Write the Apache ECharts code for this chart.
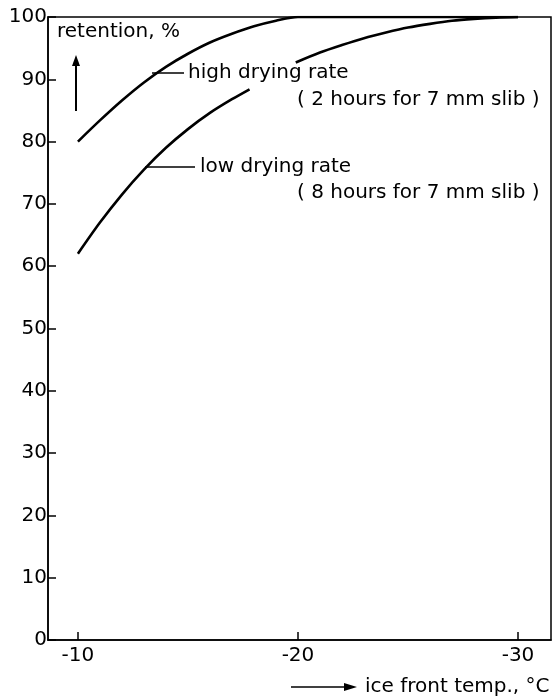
<!DOCTYPE html>
<html><head><meta charset="utf-8">
<script src="https://cdn.jsdelivr.net/npm/echarts@6/dist/echarts.min.js"></script>
<style>html,body{margin:0;padding:0;background:#fff}#c{width:558px;height:700px}</style>
</head><body><div id="c"></div>
<script>
// ice front temperature (°C) and retention (%)
const highTemps = [-10,-11,-12,-13,-14,-15,-16,-17,-18,-19,-20,-22,-24,-26,-28,-30];
const highRate  = [80,83.4,86.6,89.5,92.0,94.1,95.9,97.3,98.5,99.4,100,100,100,100,100,100];
const lowTemps  = [-10,-11,-12,-13,-14,-15,-16,-17,-17.8,-19,-19.9,-21,-22,-23,-24,-25,-26,-27,-28,-29,-30];
const lowRate   = [62,67.0,71.5,75.5,79.0,82.0,84.6,86.8,88.4,null,92.7,94.3,95.5,96.6,97.5,98.3,98.9,99.4,99.7,99.9,100];
const xTicks = [-10,-20,-30];
const yTicks = [0,10,20,30,40,50,60,70,80,90,100];

const FONT = 'DejaVu Sans';
const F = '20px "DejaVu Sans"';
const chart = echarts.init(document.getElementById('c'), null, {renderer:'canvas'});
const pair = (xs, ys) => xs.map((x,i) => [x, ys[i] === null ? '-' : ys[i]]);

chart.setOption({
  animation:false,
  backgroundColor:'#fff',
  grid:{left:48, right:7, top:17, bottom:60, show:true, borderColor:'#000', borderWidth:1.5, backgroundColor:'transparent'},
  xAxis:{
    type:'value', inverse:true, min:-31.5, max:-8.64,
    axisLine:{show:true, onZero:false, lineStyle:{color:'#000', width:1.5}},
    axisTick:{show:true, inside:true, length:8, customValues:xTicks, lineStyle:{color:'#000', width:1.5}},
    axisLabel:{customValues:xTicks, color:'#000', fontFamily:FONT, fontSize:20, margin:6},
    splitLine:{show:false}
  },
  yAxis:{
    type:'value', min:yTicks[0], max:yTicks[yTicks.length-1], interval:10,
    axisLine:{show:true, lineStyle:{color:'#000', width:1.5}},
    axisTick:{show:true, inside:true, length:8, lineStyle:{color:'#000', width:1.5}},
    axisLabel:{color:'#000', fontFamily:FONT, fontSize:20, margin:1},
    splitLine:{show:false}
  },
  series:[
    {type:'line', data:pair(highTemps, highRate), smooth:0.3, showSymbol:false, symbol:'none',
     lineStyle:{color:'#000', width:2.6}, connectNulls:false},
    {type:'line', data:pair(lowTemps, lowRate), smooth:0.3, showSymbol:false, symbol:'none',
     lineStyle:{color:'#000', width:2.6}, connectNulls:false}
  ],
  graphic:[
    {type:'text', left:57, top:22, style:{text:'retention, %', font:F, fill:'#000'}},
    {type:'line', shape:{x1:76, y1:111, x2:76, y2:62}, style:{stroke:'#000', lineWidth:2}},
    {type:'polygon', shape:{points:[[72,66],[80,66],[76,55]]}, style:{fill:'#000'}},
    {type:'line', shape:{x1:152, y1:73, x2:184, y2:73}, style:{stroke:'#000', lineWidth:1.5}},
    {type:'text', left:188, top:63, style:{text:'high drying rate', font:F, fill:'#000'}},
    {type:'text', left:297, top:90, style:{text:'( 2 hours for 7 mm slib )', font:F, fill:'#000'}},
    {type:'line', shape:{x1:145, y1:167, x2:195, y2:167}, style:{stroke:'#000', lineWidth:1.5}},
    {type:'text', left:200, top:157, style:{text:'low drying rate', font:F, fill:'#000'}},
    {type:'text', left:297, top:183, style:{text:'( 8 hours for 7 mm slib )', font:F, fill:'#000'}},
    {type:'line', shape:{x1:291, y1:687, x2:350, y2:687}, style:{stroke:'#000', lineWidth:1.5}},
    {type:'polygon', shape:{points:[[344,683],[344,691],[357,687]]}, style:{fill:'#000'}},
    {type:'text', left:365, top:677, style:{text:'ice front temp., °C', font:F, fill:'#000'}}
  ]
});
</script></body></html>
